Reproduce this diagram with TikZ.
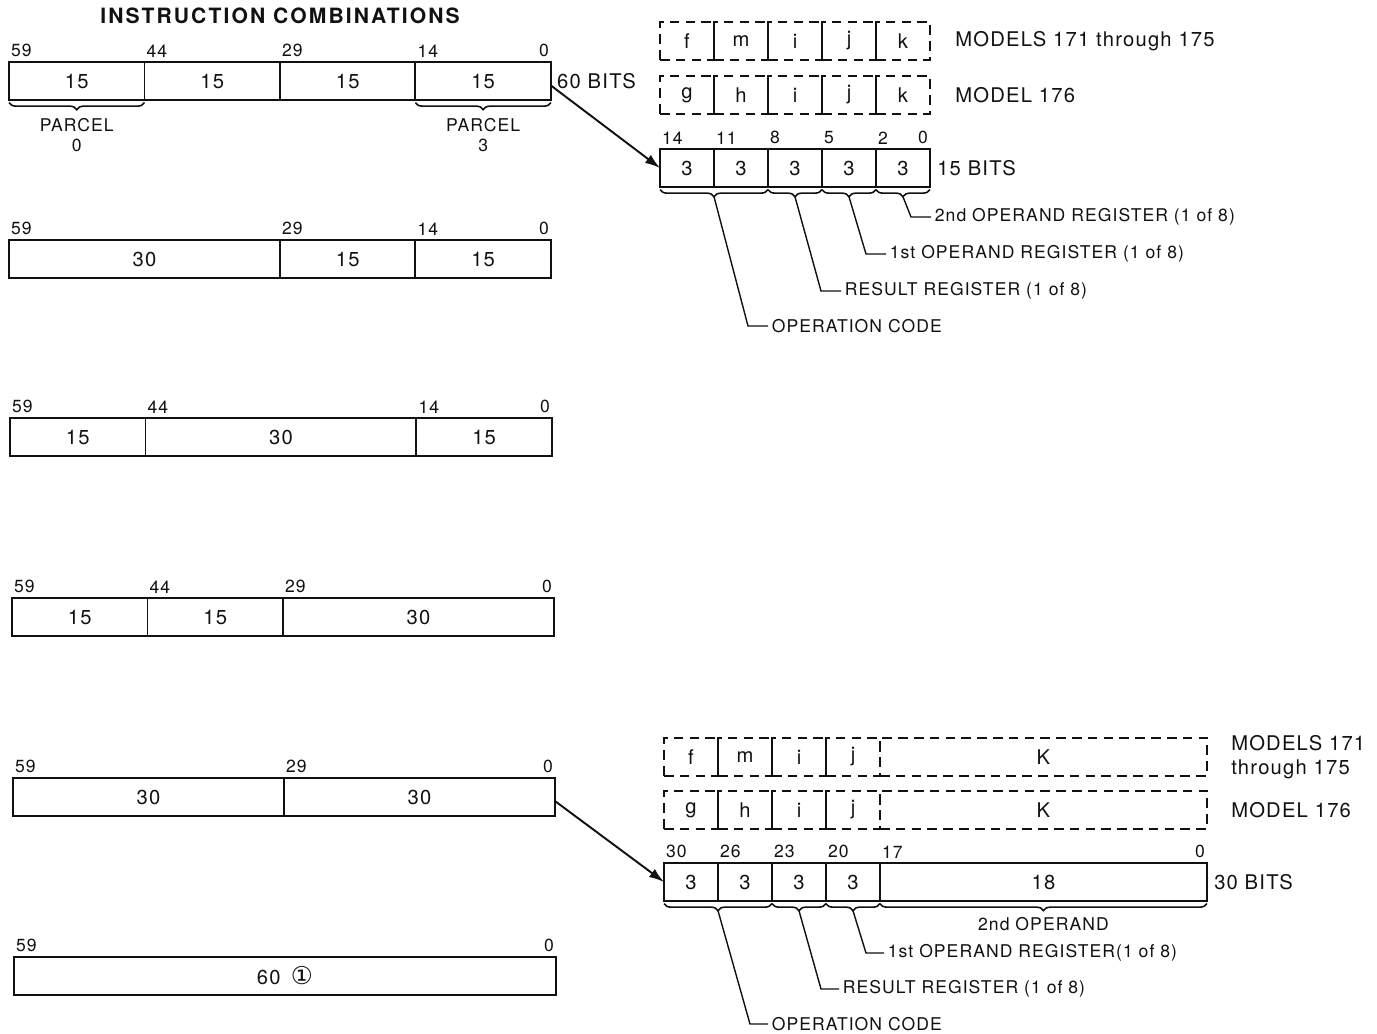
\documentclass[tikz,border=0pt]{standalone}
\usepackage{fontspec}
\setmainfont{TeX Gyre Heros}[LetterSpace=6]
\newfontfamily\circfont{DejaVu Sans}
\usetikzlibrary{arrows.meta,positioning,calc,decorations.pathreplacing}
\definecolor{wordInk}{HTML}{111111}
\tikzset{
  every picture/.style={text=wordInk},
  word field/.style={draw=wordInk, line width=1.1pt, minimum height=0.76cm,
    inner sep=0pt, outer sep=0pt, anchor=north west, font=\fontsize{11.5}{13}\selectfont},
  word model/.style={word field, line width=0.8pt, dash pattern=on 5.5pt off 3.5pt},
  word bitno/.style={anchor=south west, inner xsep=1pt, inner ysep=2.5pt,
    font=\fontsize{10}{12}\selectfont},
  word note/.style={anchor=west, inner sep=2pt, font=\fontsize{10}{12}\selectfont},
  word size/.style={anchor=west, inner sep=0pt, font=\fontsize{11.5}{13.5}\selectfont},
  word brace/.style={draw=wordInk, line width=0.9pt, decorate,
    decoration={brace, mirror, amplitude=4pt, raise=1.5pt}},
  word leader/.style={draw=wordInk, line width=0.8pt},
  word arrow/.style={-{Latex[length=3mm,width=2mm]}, draw=wordInk, line width=1.1pt}
}

\begin{document}
\begin{tikzpicture}[x=0.02cm,y=-0.02cm]
  \useasboundingbox (0,0) rectangle (1377,1034);
  \node[font=\bfseries\fontsize{12}{14}\selectfont\addfontfeatures{LetterSpace=10}] (title) at (280,16) {INSTRUCTION COMBINATIONS};

  % four parcels
  \node[word field, minimum width=2.71cm] (a1) at (9,62) {15};
  \node[word field, minimum width=2.71cm] (a2) at (a1.north east) {15};
  \node[word field, minimum width=2.71cm] (a3) at (a2.north east) {15};
  \node[word field, minimum width=2.71cm] (a4) at (a3.north east) {15};
  \foreach \f/\n in {a1/59,a2/44,a3/29,a4/14} \node[word bitno] (\f n) at (\f.north west) {\n};
  \node[word bitno, anchor=south east] (a0n) at (a4.north east) {0};
  \node[word size, right=0.12cm of a4] (abits) {60 BITS};
  \draw[word brace] (a1.south west) -- (a1.south east)
    node[midway, below=8pt, align=center, font=\fontsize{10}{11.5}\selectfont, inner sep=2pt] (p0) {PARCEL\\0};
  \draw[word brace] (a4.south west) -- (a4.south east)
    node[midway, below=8pt, align=center, font=\fontsize{10}{11.5}\selectfont, inner sep=2pt] (p3) {PARCEL\\3};

  % 30 15 15
  \node[word field, minimum width=5.42cm] (b1) at (9,240) {30};
  \node[word field, minimum width=2.71cm] (b2) at (b1.north east) {15};
  \node[word field, minimum width=2.71cm] (b3) at (b2.north east) {15};
  \foreach \f/\n in {b1/59,b2/29,b3/14} \node[word bitno] (\f n) at (\f.north west) {\n};
  \node[word bitno, anchor=south east] (b0n) at (b3.north east) {0};

  % 15 30 15
  \node[word field, minimum width=2.71cm] (c1) at (10,418) {15};
  \node[word field, minimum width=5.42cm] (c2) at (c1.north east) {30};
  \node[word field, minimum width=2.71cm] (c3) at (c2.north east) {15};
  \foreach \f/\n in {c1/59,c2/44,c3/14} \node[word bitno] (\f n) at (\f.north west) {\n};
  \node[word bitno, anchor=south east] (c0n) at (c3.north east) {0};

  % 15 15 30
  \node[word field, minimum width=2.71cm] (d1) at (12,598) {15};
  \node[word field, minimum width=2.71cm] (d2) at (d1.north east) {15};
  \node[word field, minimum width=5.42cm] (d3) at (d2.north east) {30};
  \foreach \f/\n in {d1/59,d2/44,d3/29} \node[word bitno] (\f n) at (\f.north west) {\n};
  \node[word bitno, anchor=south east] (d0n) at (d3.north east) {0};

  % 30 30
  \node[word field, minimum width=5.42cm] (e1) at (13,778) {30};
  \node[word field, minimum width=5.42cm] (e2) at (e1.north east) {30};
  \foreach \f/\n in {e1/59,e2/29} \node[word bitno] (\f n) at (\f.north west) {\n};
  \node[word bitno, anchor=south east] (e0n) at (e2.north east) {0};

  % 60
  \node[word field, minimum width=10.84cm] (g1) at (14,957) {60\, {\circfont\fontsize{14}{14}\selectfont ①}};
  \node[word bitno] (g1n) at (g1.north west) {59};
  \node[word bitno, anchor=south east] (g0n) at (g1.north east) {0};

  % 15-bit instruction
  \foreach \n/\t [count=\i] in {fm/f,mm/m,im/i,jm/j,km/k} {
    \node[word model, minimum width=1.08cm] (\n a) at (660+54*\i-54,22) {\t};
  }
  \foreach \n/\t [count=\i] in {gm/g,hm/h,im/i,jm/j,km/k} {
    \node[word model, minimum width=1.08cm] (\n b) at (660+54*\i-54,76) {\t};
  }
  \node[word size, right=0.5cm of kma] (qmod1) {MODELS 171 through 175};
  \node[word size, right=0.5cm of kmb] (qmod2) {MODEL 176};
  \node[word field, minimum width=1.08cm] (q1) at (660,149) {3};
  \node[word field, minimum width=1.08cm] (q2) at (q1.north east) {3};
  \node[word field, minimum width=1.08cm] (q3) at (q2.north east) {3};
  \node[word field, minimum width=1.08cm] (q4) at (q3.north east) {3};
  \node[word field, minimum width=1.08cm] (q5) at (q4.north east) {3};
  \foreach \f/\n in {q1/14,q2/11,q3/8,q4/5,q5/2} \node[word bitno] (\f n) at (\f.north west) {\n};
  \node[word bitno, anchor=south east] (q0n) at (q5.north east) {0};
  \node[word size, right=0.14cm of q5] (qbits) {15 BITS};
  \draw[word arrow] ([yshift=-0.09cm]a4.east) -- (q1.west);

  \draw[word brace] (q1.south west) -- (q2.south east) node[midway, coordinate, below=5.5pt] (qt1) {};
  \draw[word brace] (q3.south west) -- (q3.south east) node[midway, coordinate, below=5.5pt] (qt2) {};
  \draw[word brace] (q4.south west) -- (q4.south east) node[midway, coordinate, below=5.5pt] (qt3) {};
  \draw[word brace] (q5.south west) -- (q5.south east) node[midway, coordinate, below=5.5pt] (qt4) {};
  \node[word note] (qn4) at (931,217) {2nd OPERAND REGISTER (1 of 8)};
  \node[word note] (qn3) at (886,254) {1st OPERAND REGISTER (1 of 8)};
  \node[word note] (qn2) at (841,291) {RESULT REGISTER (1 of 8)};
  \node[word note] (qn1) at (768,326) {OPERATION CODE};
  \foreach \i in {1,...,4} \draw[word leader] (qt\i) -- ($(qn\i.west)+(-20,0)$) -- (qn\i.west);

  % 30-bit instruction
  \foreach \n/\t [count=\i] in {fk/f,mk/m,ik/i,jk/j} {
    \node[word model, minimum width=1.08cm] (\n a) at (664+54*\i-54,738) {\t};
  }
  \node[word model, minimum width=6.54cm] (kka) at (jka.north east) {K};
  \foreach \n/\t [count=\i] in {gk/g,hk/h,ik/i,jk/j} {
    \node[word model, minimum width=1.08cm] (\n b) at (664+54*\i-54,791) {\t};
  }
  \node[word model, minimum width=6.54cm] (kkb) at (jkb.north east) {K};
  \node[word size, right=0.48cm of kka, align=left] (smod1) {MODELS 171\\through 175};
  \node[word size, right=0.48cm of kkb] (smod2) {MODEL 176};
  \node[word field, minimum width=1.08cm] (s1) at (664,863) {3};
  \node[word field, minimum width=1.08cm] (s2) at (s1.north east) {3};
  \node[word field, minimum width=1.08cm] (s3) at (s2.north east) {3};
  \node[word field, minimum width=1.08cm] (s4) at (s3.north east) {3};
  \node[word field, minimum width=6.54cm] (s5) at (s4.north east) {18};
  \foreach \f/\n in {s1/30,s2/26,s3/23,s4/20,s5/17} \node[word bitno] (\f n) at (\f.north west) {\n};
  \node[word bitno, anchor=south east] (s0n) at (s5.north east) {0};
  \node[word size, right=0.14cm of s5] (sbits) {30 BITS};
  \draw[word arrow] ([yshift=-0.08cm]e2.east) -- (s1.west);

  \draw[word brace] (s1.south west) -- (s2.south east) node[midway, coordinate, below=5.5pt] (st1) {};
  \draw[word brace] (s3.south west) -- (s3.south east) node[midway, coordinate, below=5.5pt] (st2) {};
  \draw[word brace] (s4.south west) -- (s4.south east) node[midway, coordinate, below=5.5pt] (st3) {};
  \draw[word brace] (s5.south west) -- (s5.south east)
    node[midway, below=7pt, inner sep=2pt, font=\fontsize{10}{12}\selectfont] (sop) {2nd OPERAND};
  \node[word note] (sn3) at (884,953) {1st OPERAND REGISTER(1 of 8)};
  \node[word note] (sn2) at (839,989) {RESULT REGISTER (1 of 8)};
  \node[word note] (sn1) at (768,1024) {OPERATION CODE};
  \foreach \i in {1,...,3} \draw[word leader] (st\i) -- ($(sn\i.west)+(-18,0)$) -- (sn\i.west);
\end{tikzpicture}
\end{document}
